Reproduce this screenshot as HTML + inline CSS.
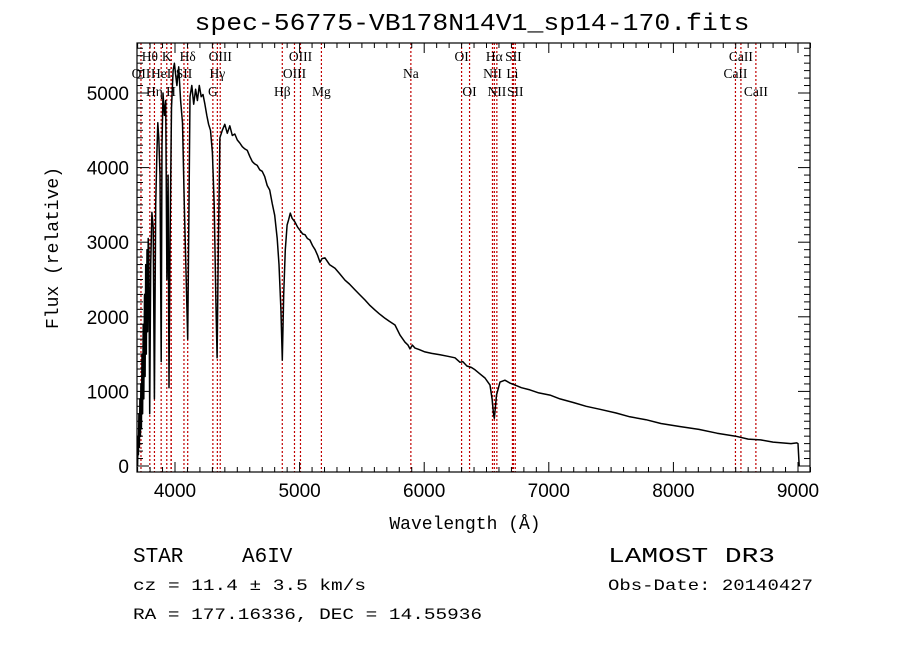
<!DOCTYPE html>
<html><head><meta charset="utf-8"><style>
html,body{margin:0;padding:0;background:#fff;}
svg{display:block;}
text{fill:#000;}
</style></head><body>
<svg id="chart" width="900" height="649" xmlns="http://www.w3.org/2000/svg">
<rect width="900" height="649" fill="#fff"/>
<text x="472" y="30" text-anchor="middle" font-family="Liberation Mono, monospace" font-size="24" textLength="555" lengthAdjust="spacingAndGlyphs">spec-56775-VB178N14V1_sp14-170.fits</text>
<g id="lines"></g>
<g id="labels" font-family="Liberation Serif, serif" font-size="13.5"></g>
<g id="spec"></g>
<g id="axes"></g>
<text x="465" y="529" text-anchor="middle" font-family="Liberation Mono, monospace" font-size="18">Wavelength (Å)</text>
<text transform="translate(58,248) rotate(-90)" text-anchor="middle" font-family="Liberation Mono, monospace" font-size="18">Flux (relative)</text>
<text x="133" y="562" font-family="Liberation Mono, monospace" font-size="21">STAR</text>
<text x="242" y="562" font-family="Liberation Mono, monospace" font-size="21">A6IV</text>
<text x="608" y="562" font-family="Liberation Mono, monospace" font-size="21" textLength="167" lengthAdjust="spacingAndGlyphs">LAMOST DR3</text>
<text x="133" y="590" font-family="Liberation Mono, monospace" font-size="16" textLength="233" lengthAdjust="spacingAndGlyphs">cz = 11.4 ± 3.5 km/s</text>
<text x="608" y="590" font-family="Liberation Mono, monospace" font-size="16" textLength="205" lengthAdjust="spacingAndGlyphs">Obs-Date: 20140427</text>
<text x="133" y="619" font-family="Liberation Mono, monospace" font-size="16" textLength="349" lengthAdjust="spacingAndGlyphs">RA = 177.16336, DEC =  14.55936</text>
</svg>
<script>
const waves=[3700,3703,3706,3710,3714,3718,3722,3726,3730,3735,3740,3745,3750,3755,3760,3765,3770,3775,3780,3785,3790,3797,3805,3815,3825,3835,3845,3855,3862,3870,3880,3889,3896,3904,3915,3925,3935,3945,3952,3960,3972,3985,3995,4005,4015,4030,4045,4060,4075,4090,4102,4112,4120,4135,4150,4165,4180,4195,4210,4225,4240,4255,4270,4285,4300,4315,4328,4338,4348,4360,4380,4400,4420,4440,4460,4480,4500,4520,4540,4560,4580,4600,4620,4640,4660,4680,4700,4720,4740,4760,4780,4800,4820,4835,4850,4861,4872,4885,4900,4912,4925,4940,4963,4985,5003,5025,5043,5063,5083,5105,5124,5145,5164,5180,5204,5240,5284,5320,5364,5400,5445,5480,5525,5560,5605,5640,5685,5720,5766,5806,5846,5870,5886,5905,5926,5960,6006,6060,6127,6190,6247,6287,6310,6343,6380,6408,6450,6488,6528,6545,6556,6563,6570,6580,6608,6648,6690,6729,6780,6849,6920,7010,7090,7200,7300,7411,7540,7650,7780,7900,8050,8205,8350,8500,8600,8700,8800,8944,8990,9000,9010];
const flux=[0,400,150,700,250,900,400,1100,500,1500,700,1900,900,2300,1200,2700,1500,2900,1800,3050,2900,700,2700,3400,3200,900,3500,4200,4600,4400,3900,1400,4300,5000,4700,4900,2500,3900,1050,3000,4800,5300,5400,5250,5100,5350,4900,4600,3500,2500,1700,3500,4950,5100,4850,5050,4900,5100,4950,4980,4850,4700,4580,4500,4200,3500,2200,1450,3000,4400,4500,4580,4460,4560,4430,4450,4370,4330,4280,4250,4230,4150,4080,4050,4030,3970,3950,3880,3760,3700,3520,3360,3050,2700,2100,1420,2300,2900,3230,3300,3390,3320,3270,3200,3160,3110,3100,3050,3030,2950,2900,2820,2730,2780,2790,2700,2650,2580,2490,2440,2360,2300,2225,2160,2090,2040,1980,1940,1890,1755,1660,1620,1570,1620,1580,1560,1530,1510,1490,1470,1450,1390,1400,1340,1320,1290,1230,1180,1085,900,700,640,760,950,1125,1150,1110,1085,1050,1020,980,950,900,850,800,760,710,660,620,570,530,490,440,400,360,350,320,300,310,300,0];
const lineWaves=[3727,3798,3835,3889,3934,3968,3970,4072,4102,4304,4340,4363,4861,4959,5007,5175,5893,6300,6364,6548,6563,6583,6708,6716,6731,8498,8542,8662];
const labelText=["OII","Hθ","Hη","HeI","K","H","Hε","SII","Hδ","G","Hγ","OIII","Hβ","OIII","OIII","Mg","Na","OI","OI","NII","Hα","NII","Li","SII","SII","CaII","CaII","CaII"];
const labelRow=[2,1,3,2,1,3,0,2,1,3,2,1,3,2,1,3,2,1,3,2,1,3,2,1,3,2,1,3];
const xTicks=[4000,5000,6000,7000,8000,9000];
const yTicks=[0,1000,2000,3000,4000,5000];
const X0=137,X1=810,Y0=43,Y1=472;
function xs(w){return 175+(w-4000)*0.1246;}
function ys(f){return 466-f*0.0746;}
const NS="http://www.w3.org/2000/svg";
function mk(tag,attrs,parent){const e=document.createElementNS(NS,tag);for(const k in attrs)e.setAttribute(k,attrs[k]);parent.appendChild(e);return e;}
const gL=document.getElementById('lines'),gT=document.getElementById('labels'),gS=document.getElementById('spec'),gA=document.getElementById('axes');
const rowY=[0,61,78,96];
lineWaves.forEach((w,i)=>{
  const x=xs(w);
  const l=mk('line',{x1:x,x2:x,y1:Y0,y2:Y1,stroke:'#c00000','stroke-width':1.2,'stroke-dasharray':'2,2'},gL);
  
  
  if(labelRow[i]>0){
    const t=mk('text',{x:x,y:rowY[labelRow[i]],'text-anchor':'middle'},gT);
    t.textContent=labelText[i];
    
    
  }
});
let d='';
waves.forEach((w,i)=>{d+=(i?'L':'M')+xs(w).toFixed(1)+','+Math.min(Y1,ys(flux[i])).toFixed(1);});
const p=mk('path',{d:d,fill:'none',stroke:'#000','stroke-width':1.5,'stroke-linejoin':'round'},gS);


const fr=mk('rect',{x:X0,y:Y0,width:X1-X0,height:Y1-Y0,fill:'none',stroke:'#000','stroke-width':1.2},gA);


for(let w=3700;w<=9100;w+=100){
  const x=xs(w);if(x<X0-0.5||x>X1+0.5)continue;
  const len=(w%1000===0)?10:5;
  mk('line',{x1:x,x2:x,y1:Y1,y2:Y1-len,stroke:'#000'},gA);
  mk('line',{x1:x,x2:x,y1:Y0,y2:Y0+len,stroke:'#000'},gA);
}
for(let f=0;f<=5600;f+=100){
  const y=ys(f);if(y<Y0||y>Y1)continue;
  const len=(f%1000===0)?12:6;
  mk('line',{x1:X0,x2:X0+len,y1:y,y2:y,stroke:'#000'},gA);
  mk('line',{x1:X1,x2:X1-len,y1:y,y2:y,stroke:'#000'},gA);
}
xTicks.forEach(v=>{
  const t=mk('text',{x:xs(v),y:Y1+25,'text-anchor':'middle','font-family':'Liberation Sans, sans-serif','font-size':19},gA);
  t.textContent=v;
  
  
});
yTicks.forEach(v=>{
  const t=mk('text',{x:X0-8,y:ys(v)+7,'text-anchor':'end','font-family':'Liberation Sans, sans-serif','font-size':19},gA);
  t.textContent=v;
  
  
});
</script>
</body></html>
